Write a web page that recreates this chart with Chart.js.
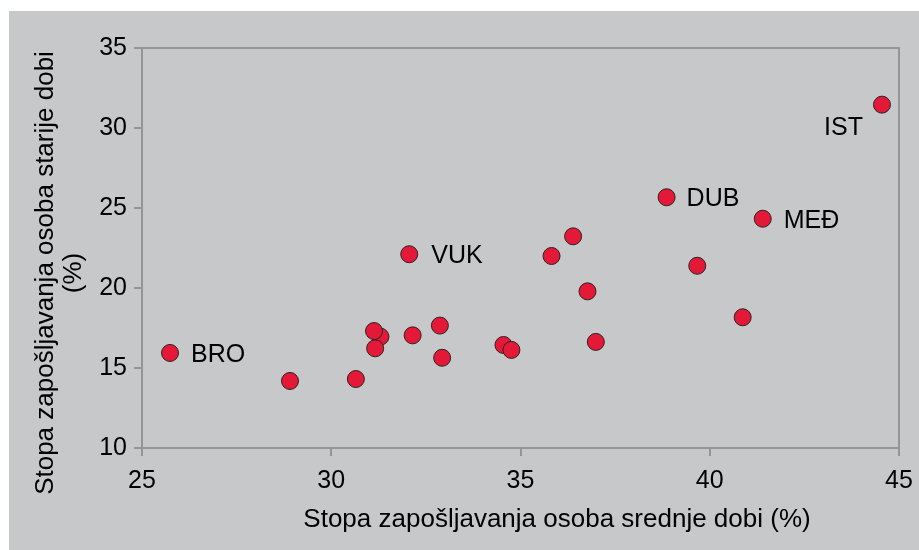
<!DOCTYPE html>
<html>
<head>
<meta charset="utf-8">
<script src="https://cdn.jsdelivr.net/npm/chart.js"></script>
<style>
  body { margin: 0; background: #fff; }
</style>
</head>
<body>
<canvas id="myChart" width="919" height="550"></canvas>
<script>
var midAge   = [25.74, 28.91, 30.65, 31.30, 31.13, 31.16, 32.15, 32.87, 32.93, 32.06, 34.55, 34.76, 35.82, 36.39, 36.77, 36.99, 38.86, 39.67, 40.87, 41.40, 44.55];
var olderAge = [15.94, 14.19, 14.31, 16.96, 17.31, 16.23, 17.04, 17.65, 15.64, 22.11, 16.44, 16.13, 22.00, 23.23, 19.79, 16.63, 25.67, 21.39, 18.17, 24.33, 31.46];
var pointNames = ["BRO", "", "", "", "", "", "", "", "", "VUK", "", "", "", "", "", "", "DUB", "", "", "MEĐ", "IST"];
var xTicks = [25, 30, 35, 40, 45];
var yTicks = [10, 15, 20, 25, 30, 35];
var xTitle = "Stopa zapošljavanja osoba srednje dobi (%)";
var yTitle = ["Stopa zapošljavanja osoba starije dobi", "(%)"];

var fontFamily = '"Liberation Sans", Arial, sans-serif';
var axisGray = "#939598";

// where each name sits next to its dot: [dx, align, dy]
var labelPlace = {
  "BRO": [21, "left", 9],
  "VUK": [22, "left", 9],
  "DUB": [20, "left", 9],
  "MEĐ": [21, "left", 9],
  "IST": [-19, "right", 30.5]
};

var points = midAge.map(function (x, i) { return {x: x, y: olderAge[i]}; });

var frame = {
  id: "frame",
  beforeDraw: function (chart) {
    var ctx = chart.ctx;
    ctx.save();
    ctx.fillStyle = "#fff";
    ctx.fillRect(0, 0, chart.width, chart.height);
    ctx.fillStyle = "#c7c8ca";
    ctx.fillRect(9, 11, chart.width - 9, chart.height - 11);
    ctx.restore();
  },
  beforeDatasetsDraw: function (chart) {
    var a = chart.chartArea, ctx = chart.ctx;
    ctx.save();
    ctx.strokeStyle = axisGray;
    ctx.lineWidth = 2;
    ctx.beginPath();
    ctx.moveTo(a.left, a.top);
    ctx.lineTo(a.right, a.top);
    ctx.lineTo(a.right, a.bottom);
    ctx.stroke();

    ctx.fillStyle = "#000";
    ctx.font = "26px " + fontFamily;
    ctx.textAlign = "center";
    ctx.textBaseline = "alphabetic";
    ctx.fillText(xTitle, 557, 527);
    ctx.translate(53, 273);
    ctx.rotate(-Math.PI / 2);
    ctx.fillText(yTitle[0], 0, 0);
    ctx.fillText(yTitle[1], 0, 28);
    ctx.restore();
  },
  afterDatasetsDraw: function (chart) {
    var ctx = chart.ctx;
    var meta = chart.getDatasetMeta(0);
    ctx.save();
    ctx.fillStyle = "#000";
    ctx.font = "25px " + fontFamily;
    ctx.textBaseline = "alphabetic";
    meta.data.forEach(function (pt, i) {
      var name = pointNames[i];
      if (!name) return;
      var p = labelPlace[name];
      ctx.textAlign = p[1];
      ctx.fillText(name, pt.x + p[0], pt.y + p[2]);
    });
    ctx.restore();
  }
};

new Chart("myChart", {
  type: "scatter",
  data: {
    datasets: [{
      data: points,
      backgroundColor: "#e31937",
      borderColor: "#2b2323",
      borderWidth: 1,
      pointRadius: 8.5,
      pointHoverRadius: 8.5
    }]
  },
  options: {
    responsive: false,
    animation: false,
    devicePixelRatio: 1,
    layout: {padding: {left: 0, top: 48, right: 20, bottom: 44}},
    plugins: {
      legend: {display: false},
      tooltip: {enabled: false}
    },
    scales: {
      x: {
        type: "linear",
        min: 25,
        max: 45,
        afterBuildTicks: function (s) { s.ticks = xTicks.map(function (v) { return {value: v}; }); },
        grid: {drawOnChartArea: false, color: axisGray, lineWidth: 2, tickLength: 8},
        border: {color: axisGray, width: 2},
        ticks: {color: "#000", padding: 6, maxRotation: 0, font: {family: fontFamily, size: 25, lineHeight: 1.52}}
      },
      y: {
        type: "linear",
        min: 10,
        max: 35,
        afterBuildTicks: function (s) { s.ticks = yTicks.map(function (v) { return {value: v}; }); },
        afterFit: function (s) { s.width = 142; },
        grid: {drawOnChartArea: false, color: axisGray, lineWidth: 2, tickLength: 8},
        border: {color: axisGray, width: 2},
        ticks: {color: "#000", padding: 7, font: {family: fontFamily, size: 25}}
      }
    }
  },
  plugins: [frame]
});
</script>
</body>
</html>
